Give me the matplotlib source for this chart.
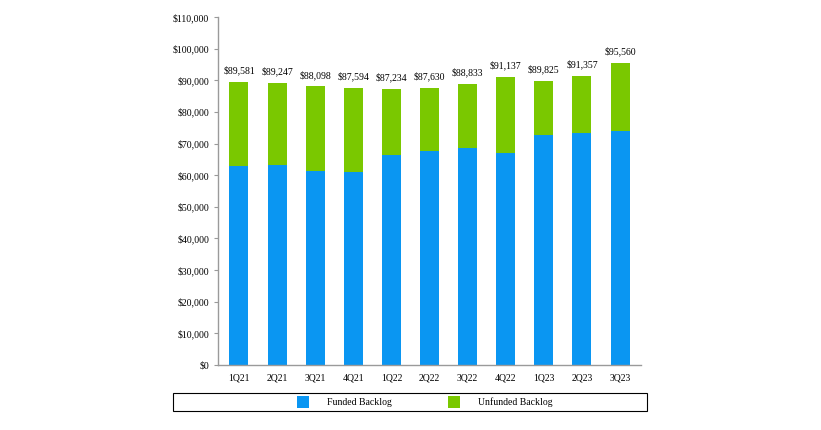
import matplotlib
matplotlib.use("Agg")
import matplotlib.pyplot as plt
from matplotlib.patches import Rectangle
from matplotlib.ticker import FuncFormatter

quarters = ["1Q21", "2Q21", "3Q21", "4Q21", "1Q22", "2Q22", "3Q22", "4Q22", "1Q23", "2Q23", "3Q23"]
totals = [89581, 89247, 88098, 87594, 87234, 87630, 88833, 91137, 89825, 91357, 95560]
funded = [63000, 63200, 61300, 61000, 66500, 67500, 68600, 66900, 72700, 73300, 74100]
unfunded = [t - f for t, f in zip(totals, funded)]

BLUE = "#0A96F2"
GREEN = "#7AC800"

plt.rcParams['font.family'] = ['Liberation Serif', 'DejaVu Serif']

fig = plt.figure(figsize=(8.21, 4.30), dpi=100)
W, H = 821, 430
ax = fig.add_axes([218 / W, 1 - 365 / H, (641 - 218) / W, (365 - 17) / H])

x = list(range(len(quarters)))
ax.bar(x, funded, width=0.5, color=BLUE, label="Funded Backlog")
ax.bar(x, unfunded, width=0.5, bottom=funded, color=GREEN, label="Unfunded Backlog")

for xi, t in zip(x, totals):
    ax.annotate(f"${t:,}", (xi, t), xytext=(0, 4.5), textcoords="offset points",
                ha="center", va="bottom", fontsize=7)

ax.set_ylim(0, 110000)
ax.set_yticks(range(0, 110001, 10000))
ax.yaxis.set_major_formatter(FuncFormatter(lambda v, p: f"${int(v):,}"))
ax.set_xlim(-0.55, len(quarters) - 0.45)
ax.set_xticks(x)
ax.set_xticklabels(quarters)
ax.tick_params(axis="both", labelsize=7, colors="black", length=3, width=0.8)
ax.tick_params(axis="x", length=0, pad=6)
for s in ["top", "right"]:
    ax.spines[s].set_visible(False)
for s in ["left", "bottom"]:
    ax.spines[s].set_color("#9a9a9a")
    ax.spines[s].set_linewidth(1.0)
ax.tick_params(axis="y", color="#9a9a9a")

# legend box
fig.patches.append(Rectangle((173 / W, 1 - 411 / H), (647 - 173) / W, 18 / H,
                             transform=fig.transFigure, fill=False, edgecolor="black", linewidth=0.8))
h, l = ax.get_legend_handles_labels()
fig.legend(h, l, loc="center", bbox_to_anchor=(425 / W, 1 - 402 / H), ncol=2, frameon=False,
           fontsize=7, handlelength=1.2, handleheight=1.5, columnspacing=5.8, handletextpad=1.9)

fig.savefig("out.png", dpi=100)
